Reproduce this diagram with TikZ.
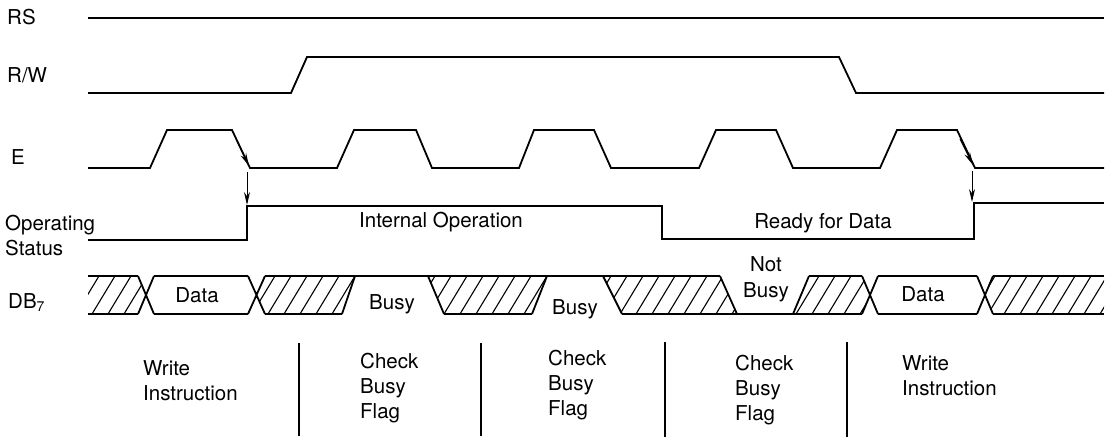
\documentclass[tikz,border=0pt]{standalone}
\usepackage{fontspec}
\setmainfont{TeX Gyre Heros}
\usetikzlibrary{arrows.meta,calc}
\tikzset{
    >={Stealth[length=13pt,width=6pt]},
    wave/.style={draw=black, line width=1.8pt, line join=miter},
    hatchline/.style={draw=black, line width=1.1pt},
    siglabel/.style={
        anchor=west,
        inner sep=0pt,
        align=left,
        font=\fontsize{20.5}{25}\selectfont
    },
    wavetext/.style={
        inner sep=0pt,
        align=center,
        font=\fontsize{20.5}{26}\selectfont
    },
    phase/.style={
        anchor=north west,
        inner sep=0pt,
        align=left,
        font=\fontsize{20.5}{25}\selectfont
    },
    divider/.style={draw=black, line width=1.2pt},
    cue/.style={->, line width=1pt}
}

\begin{document}
\begin{tikzpicture}[x=1pt, y=-1pt]
    \useasboundingbox (0,0) rectangle (1106,439);

    % signal names
    \node[siglabel] (rs) at (7,17) {RS};
    \node[siglabel] (rw) at (7,75) {R/W};
    \node[siglabel] (en) at (11,157) {E};
    \node[siglabel] (opstat) at (5,236) {Operating\\Status};
    \node[siglabel] (db) at (8,303) {DB\raisebox{-3pt}{\fontsize{14}{14}\selectfont 7}};

    % RS, R/W, E
    \draw[wave] (88,18) -- (1104,18);
    \draw[wave] (88,93) -- (291,93) -- (307,57) -- (839,57) -- (856,93) -- (1104,93);
    \draw[wave] (88,168) -- (150,168) -- (167,130) -- (232,130) -- (250,168)
        -- (337,168) -- (354,130) -- (416,130) -- (432,168)
        -- (519,168) -- (534,130) -- (594,130) -- (611,168)
        -- (699,168) -- (716,130) -- (776,130) -- (793,168)
        -- (880,168) -- (897,130) -- (957,130) -- (975,168) -- (1104,168);

    % operating status
    \draw[wave] (88,240) -- (247,240) -- (247,206) -- (662,206) -- (662,239)
        -- (974,239) -- (974,203) -- (1104,203);
    \node[wavetext] (intop) at (441,222) {Internal Operation};
    \node[wavetext] (ready) at (823,223) {Ready for Data};

    % E edge starts the operation
    \coordinate (fallA) at (236,139);
    \coordinate (fallAend) at (249,166);
    \coordinate (riseA) at (247,172);
    \coordinate (riseAend) at (247,205);
    \coordinate (fallB) at (960,139);
    \coordinate (fallBend) at (973,165);
    \coordinate (riseB) at (972,171);
    \coordinate (riseBend) at (972,202);
    \draw[cue] (fallA) -- (fallAend);
    \draw[cue] (riseA) -- (riseAend);
    \draw[cue] (fallB) -- (fallBend);
    \draw[cue] (riseB) -- (riseBend);

    % DB7 hatching
    \begin{scope}
        \clip (88,276) -- (138,276) -- (146,295) -- (138,314) -- (88,314) -- cycle
              (257,295) -- (265,276) -- (355,276) -- (342,314) -- (265,314) -- cycle
              (428,276) -- (547,276) -- (532,314) -- (444,314) -- cycle
              (603,276) -- (720,276) -- (737,314) -- (622,314) -- cycle
              (793,314) -- (809,276) -- (862,276) -- (870,295) -- (862,314) -- cycle
              (985,295) -- (993,276) -- (1104,276) -- (1104,314) -- (993,314) -- cycle;
        \foreach \x in {60,76,...,1110}
            \draw[hatchline] (\x,314) -- ++(23,-38);
    \end{scope}

    % DB7 rails
    \draw[wave] (88,276) -- (138,276) (154,276) -- (248,276) (265,276) -- (720,276)
        (809,276) -- (862,276) (878,276) -- (977,276) (993,276) -- (1104,276);
    \draw[wave] (88,314) -- (138,314) (154,314) -- (248,314) (265,314) -- (342,314)
        (444,314) -- (532,314) (622,314) -- (862,314) (878,314) -- (977,314)
        (993,314) -- (1104,314);
    % DB7 edges
    \draw[wave] (138,276) -- (154,314) (138,314) -- (154,276)
        (248,276) -- (265,314) (248,314) -- (265,276)
        (342,314) -- (355,276)
        (428,276) -- (444,314) (532,314) -- (547,276)
        (603,276) -- (622,314) (720,276) -- (737,314)
        (793,314) -- (809,276)
        (862,276) -- (878,314) (862,314) -- (878,276)
        (977,276) -- (993,314) (977,314) -- (993,276);

    \node[wavetext] (dataA) at (197,295) {Data};
    \node[wavetext] (busyA) at (392,304) {Busy};
    \node[wavetext] (busyB) at (575,309) {Busy};
    \node[wavetext] (notbusy) at (766,279) {Not\\Busy};
    \node[wavetext] (dataB) at (923,294) {Data};

    % phases
    \draw[divider] (299,343) -- (299,436);
    \draw[divider] (481,343) -- (481,436);
    \draw[divider] (665,342) -- (665,437);
    \draw[divider] (847,342) -- (847,437);
    \node[phase] (writeA) at (143,360) {Write\\Instruction};
    \node[phase] (checkA) at (360,353) {Check\\Busy\\Flag};
    \node[phase] (checkB) at (548,350) {Check\\Busy\\Flag};
    \node[phase] (checkC) at (735,355) {Check\\Busy\\Flag};
    \node[phase] (writeB) at (902,355) {Write\\Instruction};
\end{tikzpicture}
\end{document}
